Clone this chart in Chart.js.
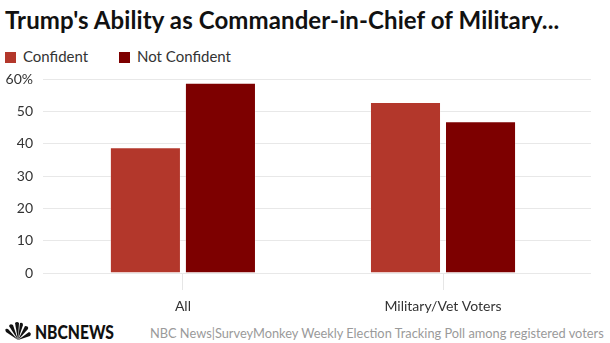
<!DOCTYPE html>
<html>
<head>
<meta charset="utf-8">
<script src="https://cdn.jsdelivr.net/npm/chart.js@4.4.1/dist/chart.umd.min.js"></script>
<style>
  html, body { margin: 0; padding: 0; background: #fff; }
  body { width: 610px; height: 343px; position: relative; overflow: hidden; font-family: Lato, "Open Sans", sans-serif; }
  .title { position: absolute; left: 5px; top: 5px; font-size: 24px; font-weight: 700; color: #111; letter-spacing: 0.1px; white-space: nowrap; }
  .legend { position: absolute; left: 5px; top: 47px; font-size: 15px; color: #333; }
  .legend span.item { position: absolute; white-space: nowrap; top: 0; }
  .legend i { display: inline-block; width: 11px; height: 11px; vertical-align: -1px; margin-right: 7px; }
  .chart-wrap { position: absolute; left: 0; top: 61px; width: 610px; height: 259px; }
  .footer-logo { position: absolute; left: 4px; top: 322px; height: 20px; }
  .footer-src { position: absolute; left: 150px; top: 325px; font-size: 12.8px; color: #9a9a9a; white-space: nowrap; }
</style>
</head>
<body>
<div class="title">Trump's Ability as Commander-in-Chief of Military...</div>
<div class="legend">
  <span class="item" style="left:0"><i style="background:#b3372b"></i>Confident</span>
  <span class="item" style="left:114px"><i style="background:#7d0000"></i>Not Confident</span>
</div>
<div class="chart-wrap"><canvas id="chart"></canvas></div>
<svg class="footer-logo" width="112" height="20" viewBox="0 0 112 20">
  <g fill="#111">
    <path d="M14 18 L2 10 Q0 6 4 7 Z"/>
    <path d="M14 18 L5 4 Q6 1 9 3 Z"/>
    <path d="M14 18 L11 1 Q13 -1 15 1 Z"/>
    <path d="M14 18 L16 1 Q19 0 19 3 Z"/>
    <path d="M14 18 L21 4 Q25 4 24 7 Z"/>
    <path d="M14 18 L25 10 Q28 11 26 14 Z"/>
  </g>
  <text x="31" y="17" font-family="Lato, sans-serif" font-weight="900" font-size="18" fill="#111" textLength="79" lengthAdjust="spacingAndGlyphs">NBCNEWS</text>
</svg>
<div class="footer-src">NBC News|SurveyMonkey Weekly Election Tracking Poll among registered voters</div>

<script>
const categories = ['All', 'Military/Vet Voters'];
const confident = [39, 53];
const notConfident = [59, 47];
const yTicks = [0, 10, 20, 30, 40, 50, 60];

const toPoints = (vals) => vals.map((v, i) => ({ x: i, y: v }));

new Chart(document.getElementById('chart'), {
  type: 'bar',
  data: {
    datasets: [
      {
        label: 'Confident',
        data: toPoints(confident),
        backgroundColor: '#b3372b',
        borderColor: 'rgba(255,255,255,0.3)',
        borderWidth: 1,
        categoryPercentage: 0.577,
        barPercentage: 0.947,
      },
      {
        label: 'Not Confident',
        data: toPoints(notConfident),
        backgroundColor: '#7d0000',
        borderColor: 'rgba(255,255,255,0.3)',
        borderWidth: 1,
        categoryPercentage: 0.577,
        barPercentage: 0.947,
      },
    ],
  },
  options: {
    responsive: true,
    maintainAspectRatio: false,
    animation: false,
    layout: { padding: { top: 0, right: 19, left: 0, bottom: 0 } },
    plugins: {
      legend: { display: false },
      tooltip: { enabled: false },
    },
    scales: {
      x: {
        type: 'linear',
        offset: false,
        min: -0.538,
        max: 1.569,
        afterBuildTicks: (s) => { s.ticks = categories.map((_, i) => ({ value: i })); },
        afterFit: (s) => { s.height = 47; },
        ticks: {
          callback: (v) => categories[v] || '',
          color: '#333',
          font: { family: 'Lato', size: 14 },
          padding: 8,
          maxRotation: 0,
        },
        grid: {
          offset: false,
          drawOnChartArea: false,
          drawTicks: true,
          tickLength: 17,
          color: '#e6e6e6',
        },
        border: { display: false },
      },
      y: {
        min: 0,
        max: 60,
        afterBuildTicks: (s) => { s.ticks = yTicks.map((v) => ({ value: v })); },
        afterFit: (s) => { s.width = 43; },
        ticks: {
          callback: (v) => (v === 60 ? v + '%' : v),
          color: '#333',
          font: { family: 'Lato', size: 14 },
          padding: 10,
        },
        grid: { color: '#e8e8e8', drawTicks: false },
        border: { display: false },
      },
    },
  },
});
</script>
</body>
</html>
